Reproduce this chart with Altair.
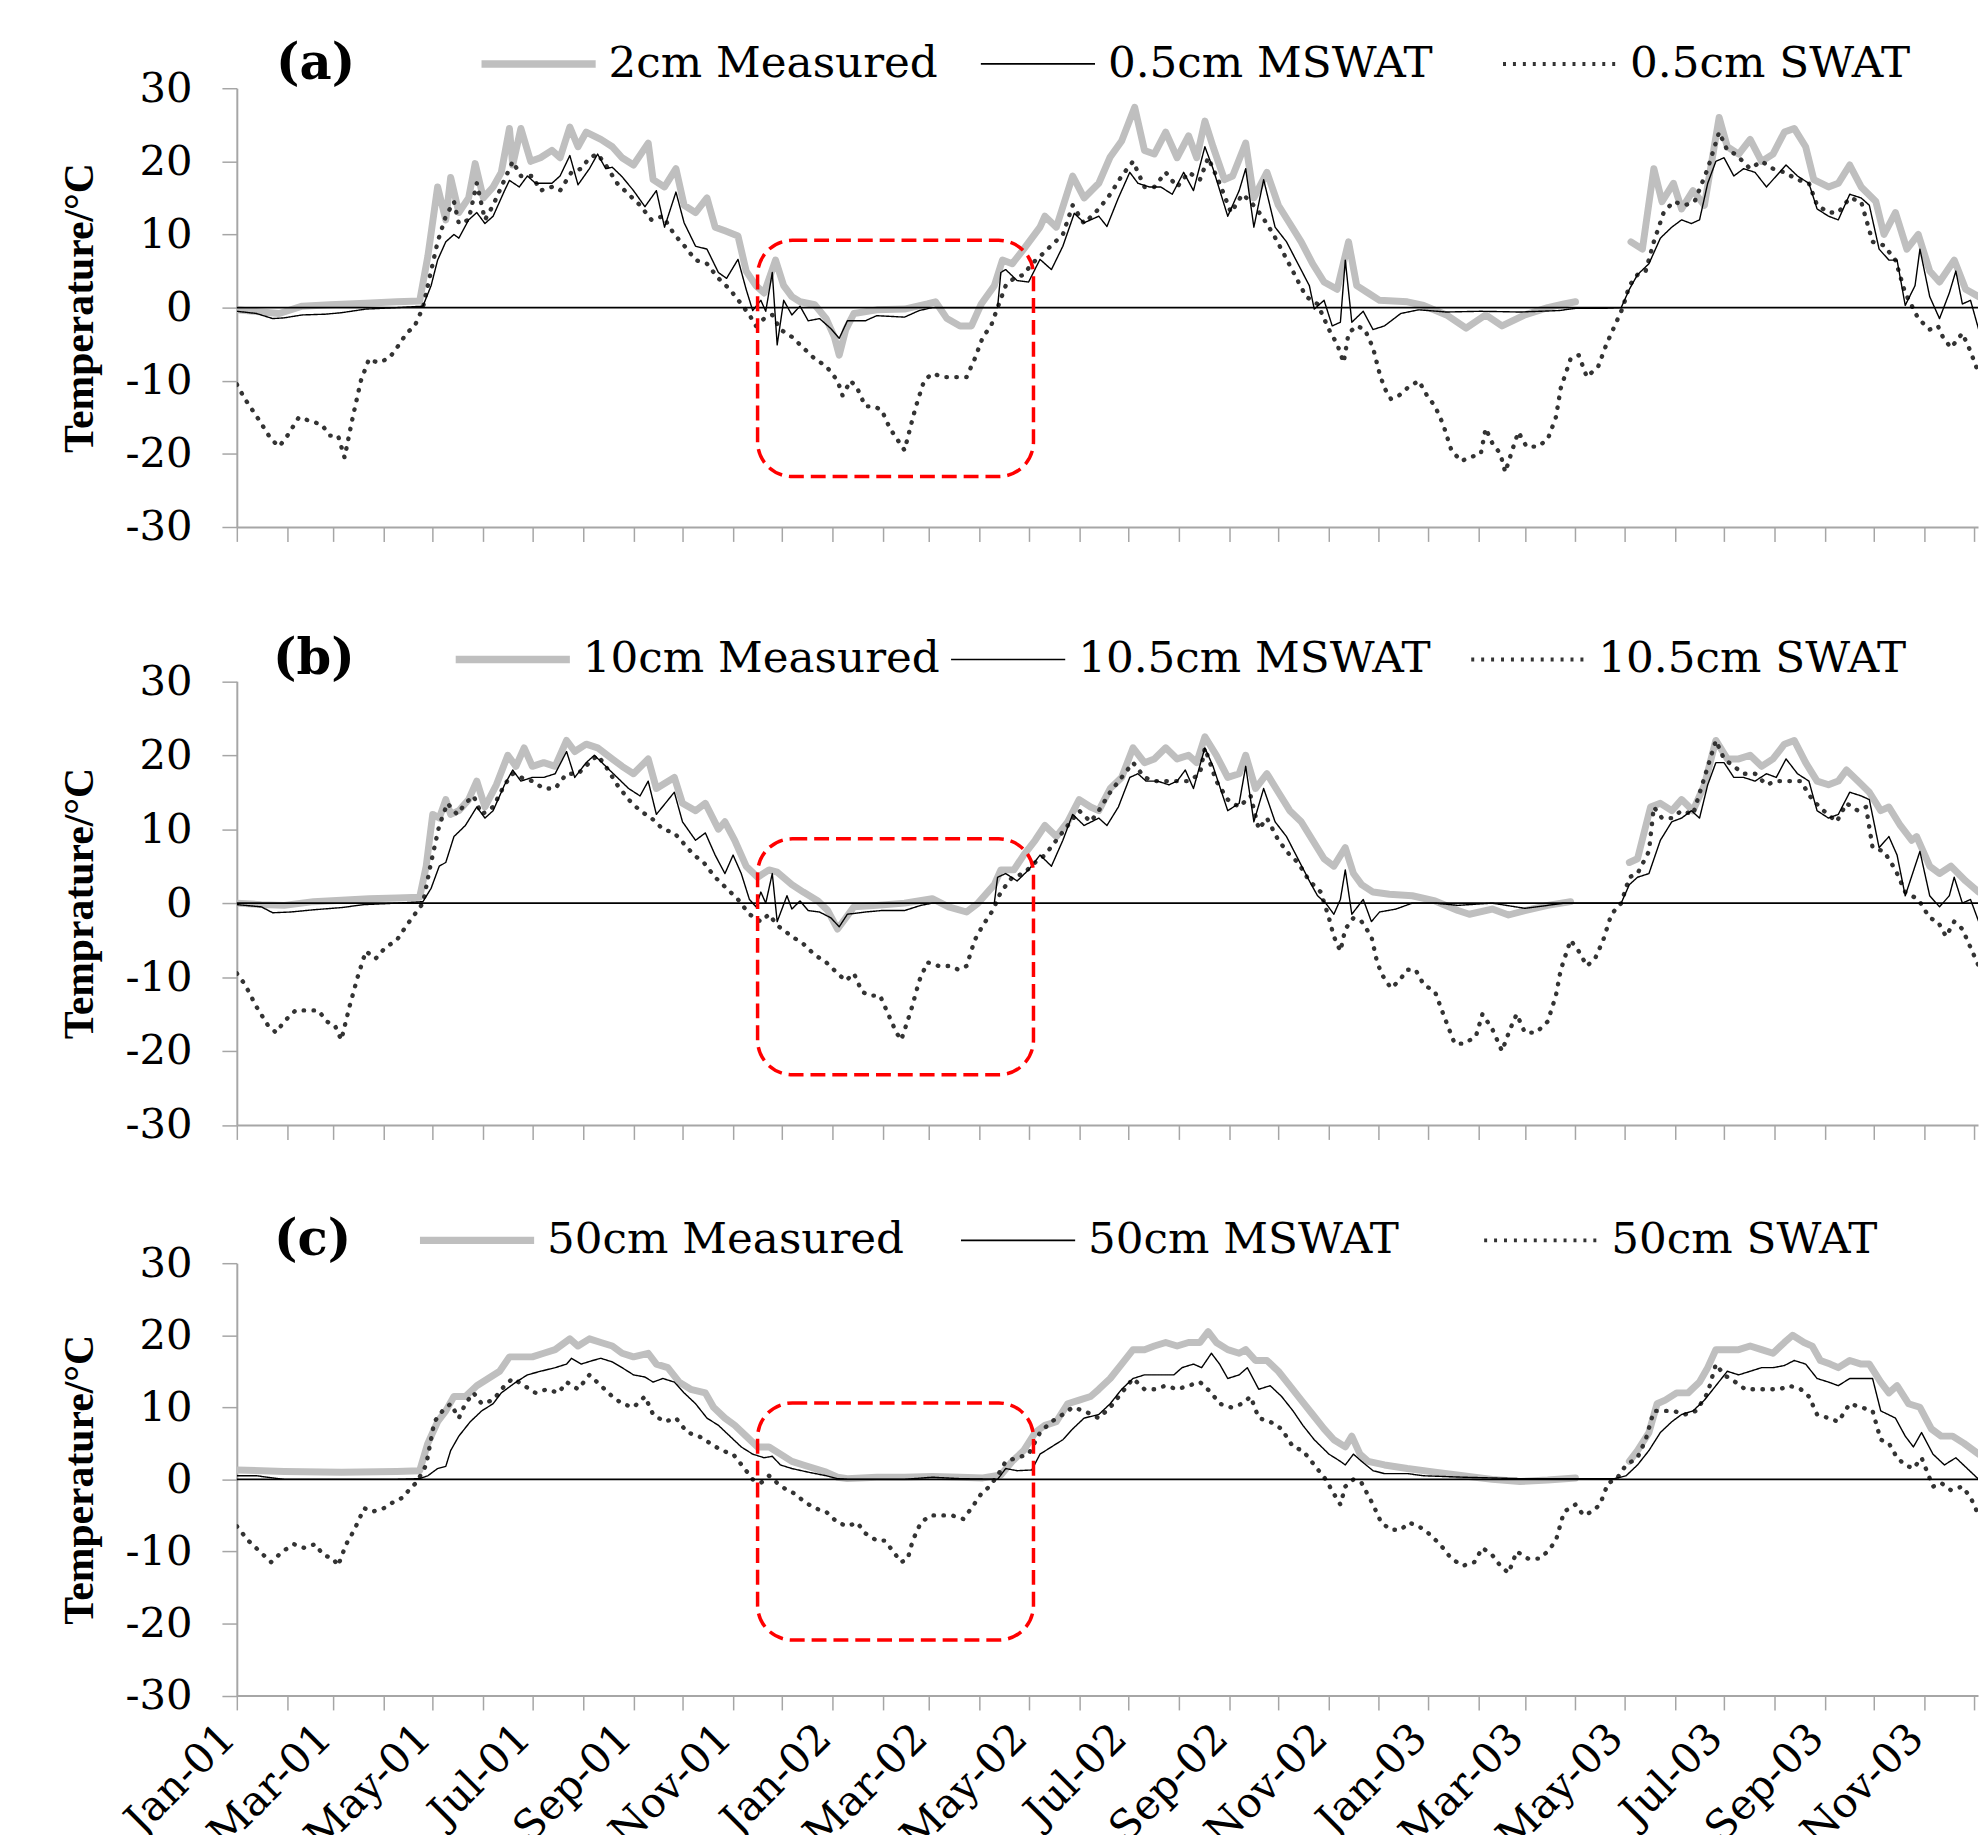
import altair as alt
import pandas as pd

BASE_DATE = "2001-01-01"
PANEL_TAGS = ["(a)", "(b)", "(c)"]
Y_TITLES = ["Temperature/°C", "Temprature/°C", "Temperature/°C"]
NAMES = [
    ["2cm Measured", "0.5cm MSWAT", "0.5cm SWAT"],
    ["10cm Measured", "10.5cm MSWAT", "10.5cm SWAT"],
    ["50cm Measured", "50cm MSWAT", "50cm SWAT"],
]
Y_TICKS = [-30, -20, -10, 0, 10, 20, 30]
ZERO = [0]

# (day offset from 2001-01-01, temperature); None marks a gap in the record
A_MEAS = [(0,-0.3),(15,-0.6),(26,-0.8),(40,0.2),(57,0.4),(79,0.6),(98,0.8),(112,0.9),(117,7),(123,16.5),(128,12),(131,17.8),(136,13),(142,15),(146,19.7),(151,15),(157,16.5),(162,18.5),(167,24.5),(169,19.5),(174,24.5),(180,20),(186,20.5),(193,21.5),(198,20.5),(204,24.7),(209,22),(214,24),(223,23),(230,22),(236,20.5),(243,19.5),(252,22.5),(255,17.5),(262,16.5),(269,19),(274,14),(281,13),(288,15),(293,11),(299,10.5),(307,9.8),(312,5),(318,3),(323,2),(330,6.5),(335,3),(340,1.5),(345,0.8),(354,0.4),(361,-1.5),(366,-4),(369,-6.5),(373,-3),(378,-0.8),(392,-0.3),(409,-0.2),(423,0.5),(428,0.8),(435,-1.5),(443,-2.5),(450,-2.5),(456,0.5),(464,3),(469,6.5),(475,6),(482,8),(492,11),(495,12.5),(502,11),(512,18),(519,15),(528,17),(535,20.6),(542,22.8),(550,27.4),(556,21.5),(562,21),(569,24),(576,20.5),(583,23.5),(588,20.5),(593,25.5),(598,22),(605,17.5),(610,18),(618,22.5),(623,15),(631,18.5),(638,14),(645,11.5),(652,9),(659,6),(666,3.5),(674,2.5),(681,9),(686,3),(693,2),(700,1),(717,0.8),(727,0.3),(741,-1),(753,-2.8),(765,-1),(775,-2.5),(789,-1),(803,0),(813,0.5),(820,0.8),(836,None),(854,9),(861,8),(868,19),(873,14.5),(880,17),(885,13.5),(892,16),(899,14),(908,26),(913,22),(920,21),(927,23),(934,20),(941,21),(948,24),(954,24.5),(961,22),(966,17.5),(975,16.5),(981,17),(988,19.5),(995,16.5),(1004,14.5),(1009,10),(1016,13),(1023,8),(1030,10),(1037,5),(1043,3.5),(1052,6.5),(1059,2.5),(1067,1.5)]
A_MSW = [(0,-0.5),(12,-0.8),(22,-1.5),(29,-1.4),(40,-1.0),(54,-0.9),(64,-0.7),(79,-0.2),(98,0),(114,0.2),(119,3),(123,6.5),(128,9),(133,10),(136,9.5),(142,12),(147,13),(152,11.5),(157,12.5),(164,16),(167,17.4),(173,16.5),(178,18),(183,17),(188,17),(193,17),(198,18),(204,20.8),(209,16.8),(216,19),(221,21),(226,19),(230,19.2),(236,17.9),(243,16),(250,13.8),(257,16),(262,11),(269,15.8),(274,11.6),(281,8.4),(288,8),(295,4.8),(300,4),(307,6.6),(312,2.5),(316,-0.4),(321,1),(324,-0.5),(328,4.8),(331,-5.1),(335,1),(340,-1),(345,0.2),(350,-1.8),(357,-1.5),(364,-2.9),(369,-4.2),(374,-1.8),(385,-1.8),(392,-1.1),(409,-1.3),(418,-0.4),(426,0),(466,0),(468,4.8),(471,5.2),(478,3.7),(485,3.5),(492,6.6),(499,5.2),(506,8.4),(513,12.9),(519,11.6),(528,12.5),(533,11.1),(540,15),(547,18.5),(552,17),(559,16.5),(566,16.5),(573,15.5),(580,18.5),(586,16),(593,22),(598,19),(607,12.5),(614,16),(618,19),(623,11),(629,17.5),(636,11),(643,9),(650,6),(657,3),(660,-0.2),(666,1),(671,-2.5),(676,-2),(679,6.5),(683,-2),(690,-0.5),(696,-3),(703,-2.5),(713,-0.8),(724,-0.3),(741,-0.6),(762,-0.5),(786,-0.6),(810,-0.4),(820,-0.1),(837,-0.1),(848,0),(853,2.5),(858,4.5),(865,6),(872,9.5),(879,11),(885,12),(891,11.5),(896,12),(901,17),(906,20),(911,20.5),(917,18),(923,19),(930,18.5),(937,16.5),(943,18),(949,19.5),(956,18),(963,17),(968,13.5),(975,12.5),(981,12),(988,15.5),(995,15),(1000,14),(1006,8),(1012,6.5),(1017,6.5),(1022,0.3),(1028,3),(1031,8),(1037,1.5),(1043,-1.5),(1049,2),(1053,5),(1057,0.5),(1062,1),(1067,-3)]
A_SWAT = [(0,-10.5),(5,-12.5),(14,-15.5),(21,-18),(26,-19),(31,-17.5),(38,-15),(45,-15.5),(52,-16),(57,-17.5),(62,-17.5),(66,-20.5),(71,-15),(76,-10),(81,-7),(86,-7.5),(93,-7),(98,-5.5),(104,-3.5),(109,-2.5),(114,0),(119,5),(123,9),(128,12.5),(133,14.5),(136,11.5),(142,12),(147,17),(152,12),(157,14),(164,17.5),(169,20),(174,18),(181,18),(186,16),(193,16.5),(198,16),(205,18.5),(211,19),(216,20.5),(221,21),(226,19.5),(233,17),(240,15.5),(247,14),(254,12),(261,12.5),(268,10),(274,8.5),(281,6.5),(288,6),(295,4),(302,2.5),(309,0.5),(314,-1),(318,-2.5),(323,-1.5),(328,-1),(333,-3),(340,-4),(347,-5.5),(354,-7),(361,-8),(368,-10),(371,-12),(376,-10),(380,-11),(385,-13.5),(390,-13.5),(395,-14),(400,-16.5),(406,-18.5),(409,-19.5),(413,-16),(416,-13.5),(421,-10),(426,-9),(433,-9.5),(440,-9.5),(447,-9.5),(452,-7),(457,-4),(462,-2.5),(466,0),(471,3),(476,4),(482,4.5),(487,6),(492,7),(499,8.5),(506,10),(512,14),(519,11.5),(528,13.5),(535,15.5),(542,18),(549,20),(556,16.5),(562,16.5),(569,18.5),(576,16.5),(583,18.5),(590,17.5),(595,20.5),(602,17),(609,13),(616,15.5),(621,14.5),(628,12.5),(635,10),(641,7.5),(648,4.5),(655,1.5),(662,0.5),(669,-3),(674,-5),(678,-7.5),(681,-3.5),(686,-2.5),(691,-3),(696,-5.5),(700,-9),(703,-11),(707,-12.5),(712,-12),(717,-11),(724,-10),(729,-12),(734,-13.5),(739,-16),(744,-19.5),(750,-21),(755,-20.5),(762,-20),(765,-16.5),(769,-18.5),(774,-20),(777,-22.5),(782,-19),(785,-17),(790,-19),(797,-19),(803,-18),(808,-15),(811,-11),(817,-7),(822,-6.5),(827,-9.5),(834,-8),(839,-5),(844,-2.5),(849,0),(853,3),(858,4.5),(863,5),(868,9),(874,13),(880,14.5),(887,14),(893,14.5),(901,19),(908,24),(913,21.5),(918,21),(927,19),(934,20),(941,19),(948,18.5),(956,17.5),(963,17),(968,14),(975,13),(981,13),(988,15),(995,14.5),(1002,9),(1009,8.5),(1016,6.5),(1022,2),(1030,-1.5),(1037,-3),(1042,-2.5),(1045,-4),(1050,-5.5),(1057,-3.5),(1062,-6),(1067,-9)]

B_MEAS = [(0,0),(15,-0.2),(29,-0.3),(47,0.2),(64,0.4),(81,0.6),(98,0.7),(112,0.8),(116,5),(120,12),(124,11.5),(128,14),(131,12),(136,12.5),(142,14),(147,16.5),(152,13),(159,16),(166,20),(171,18.5),(176,21),(181,18.5),(188,19),(195,18.5),(202,22),(207,20.5),(214,21.5),(221,21),(230,19.5),(236,18.5),(243,17.5),(252,19.5),(257,15.5),(268,17),(273,13.5),(281,12.5),(287,13.5),(295,10),(299,11),(305,8.5),(312,5),(319,3.5),(326,4.5),(331,4.2),(340,2.5),(347,1.5),(356,0.3),(362,-1),(368,-3.5),(373,-2),(378,-0.5),(392,-0.3),(409,0),(426,0.6),(436,-0.5),(447,-1.2),(454,0),(464,2.5),(468,4.5),(476,4.5),(482,6.5),(489,8.5),(495,10.5),(502,9),(509,11),(516,14),(523,13),(528,12.5),(535,15.5),(542,17),(549,21),(556,19),(562,19.5),(569,21),(576,19.5),(583,20),(588,19),(593,22.5),(600,20),(607,17),(614,17.5),(618,20),(624,15.5),(631,17.5),(638,15),(645,12.5),(652,11),(659,8.5),(666,6),(672,5),(679,7.5),(684,4),(689,2.5),(696,1.5),(706,1.2),(720,1),(734,0.3),(748,-1),(755,-1.5),(769,-0.8),(779,-1.6),(789,-1),(803,-0.3),(817,0.2),(835,None),(853,5.5),(858,6),(866,13),(872,13.5),(879,12.5),(885,14),(892,12.5),(899,16),(906,22),(913,19.5),(920,19.5),(927,20),(934,18.5),(941,19.5),(948,21.5),(954,22),(961,19),(968,16.5),(975,16),(981,16.5),(986,18),(993,16.5),(1000,15),(1007,12.5),(1012,13),(1019,10.5),(1026,8.5),(1029,9),(1037,5),(1043,4),(1050,5),(1059,3),(1067,1.5)]
B_MSW = [(0,-0.2),(15,-0.5),(22,-1.3),(33,-1.2),(47,-0.9),(64,-0.6),(78,-0.2),(98,0),(114,0.2),(119,2),(124,5),(128,5.5),(133,9),(140,10.5),(147,13),(152,11.5),(157,12.5),(164,16),(169,18),(174,16.5),(181,17),(188,17),(195,17.5),(202,20.5),(207,17),(214,19),(219,20),(226,18.5),(233,17),(240,15.5),(247,14.5),(252,16.5),(257,12),(268,15),(273,11),(281,8.5),(287,9.5),(293,6.5),(299,4),(304,6.5),(309,4),(314,0.5),(318,-0.5),(321,1.5),(324,0),(328,4),(331,-2.5),(337,1),(340,-0.8),(345,0.3),(350,-1),(357,-1.2),(364,-2),(369,-3.2),(374,-1.5),(385,-1.2),(395,-1),(409,-1),(419,-0.3),(426,0),(464,0),(466,3.5),(471,4),(478,3),(485,4.5),(492,6.5),(499,5),(506,8.5),(512,12),(519,10.5),(528,11.5),(533,10.5),(540,13),(547,17),(552,17.5),(557,16.5),(564,16.5),(571,16),(576,16.5),(581,18),(586,15.5),(593,21),(598,18.5),(607,12.5),(614,13.5),(618,18.5),(623,11),(629,15.5),(636,11),(643,9),(650,6),(657,3),(662,1),(667,0),(672,-1.5),(676,0.5),(679,4.5),(683,-1.5),(690,0.5),(695,-2.5),(700,-1.2),(710,-0.8),(720,0),(734,0),(748,-0.3),(769,0),(789,-0.7),(803,-0.3),(813,0),(848,0),(853,2.5),(858,3.5),(865,4),(872,8.5),(879,11),(885,11.5),(891,12.5),(896,11.5),(901,16),(906,19),(911,19),(917,17),(923,17),(930,16.5),(937,17.5),(943,17),(949,19.5),(956,17.5),(963,16.5),(968,12.5),(975,11.5),(981,12),(988,15),(995,14.5),(1000,14),(1006,7.5),(1012,9),(1017,6.5),(1022,1),(1028,5),(1031,7),(1037,1),(1043,-0.5),(1049,1),(1052,3.5),(1057,0),(1062,0.5),(1067,-2.5)]
B_SWAT = [(0,-9.5),(5,-11),(12,-14),(19,-16.5),(24,-17.5),(29,-16),(36,-14.5),(43,-14.5),(50,-14.5),(55,-16),(60,-16.5),(64,-18.5),(69,-14),(74,-10),(79,-6.5),(85,-7.5),(91,-6),(98,-5),(104,-3),(109,-1.5),(114,0),(119,5.5),(124,10.5),(129,13.5),(135,12),(140,13.5),(145,14.5),(150,12),(157,13),(164,16),(169,17.5),(174,17),(181,16.5),(188,15.5),(195,15.5),(202,17.5),(209,17.5),(216,19),(221,20),(226,18.5),(233,16),(240,14),(247,12.5),(254,11.5),(261,10),(268,9.5),(274,8),(280,6.5),(286,5.5),(293,3.5),(300,2),(307,0.5),(314,-1.5),(321,-2.5),(326,-1.5),(331,-3),(340,-4.5),(347,-5.5),(354,-7),(361,-8),(368,-9.5),(373,-10.5),(378,-9.5),(383,-12),(388,-12.5),(394,-12.5),(399,-15),(404,-17.5),(407,-18.5),(413,-14.5),(418,-10.5),(423,-8),(430,-8.5),(437,-8.5),(442,-9),(447,-8.5),(452,-5),(457,-3),(463,-1),(468,1.5),(475,3.5),(482,4),(489,5.5),(495,6.5),(502,8.5),(509,10.5),(516,12.5),(523,11),(528,12.5),(535,15),(542,17),(549,19),(556,17),(562,16.5),(569,16.5),(576,16.5),(583,16.5),(590,17.5),(593,21),(600,16.5),(607,14),(614,13),(621,14.5),(626,10),(631,11.5),(638,8.5),(645,6.5),(650,5.5),(657,3),(664,1.5),(669,-2),(672,-4.5),(676,-6.5),(679,-3.5),(684,-2),(689,-2.5),(695,-4.5),(698,-7.5),(701,-9.5),(707,-11.5),(712,-10.5),(717,-9),(722,-9),(727,-11),(734,-12),(739,-15),(746,-19),(752,-19),(759,-18),(763,-15),(769,-17),(775,-20),(780,-17),(784,-15),(789,-17.5),(796,-17.5),(803,-16),(808,-12.5),(811,-9),(817,-5),(822,-6.5),(827,-8.5),(832,-7.5),(837,-5),(842,-1.5),(848,0),(853,3.5),(858,4),(865,7),(868,13),(873,11.5),(879,11.5),(885,12.5),(892,12),(899,17),(906,22),(911,19.5),(917,18.5),(923,17.5),(930,17.5),(937,16),(943,16.5),(951,16.5),(958,16.5),(965,14),(972,12.5),(980,11),(986,13.5),(993,12.5),(998,13),(1002,7.5),(1009,7),(1016,4.5),(1022,1.5),(1030,0.5),(1037,-2),(1042,-2.5),(1047,-4.5),(1052,-2.5),(1057,-3.5),(1062,-6),(1067,-8.5)]

C_MEAS = [(0,1.3),(29,1.1),(64,1.0),(98,1.1),(112,1.2),(117,5),(123,8),(128,9.5),(133,11.5),(140,11.5),(147,13),(154,14),(161,15),(167,17),(174,17),(181,17),(188,17.5),(195,18),(204,19.5),(209,18.5),(216,19.5),(223,19),(230,18.5),(236,17.5),(243,17),(252,17.5),(257,16),(264,15.5),(271,13.5),(278,12.5),(287,12),(292,10),(299,8.5),(305,7.5),(312,6),(319,4.5),(326,4.5),(333,3.5),(340,2.5),(347,2),(354,1.5),(361,1),(368,0.3),(374,0.1),(392,0.3),(409,0.3),(426,0.4),(443,0.3),(457,0.2),(468,0.6),(475,2.5),(482,4),(489,6.5),(495,7.5),(502,8),(509,10.5),(516,11),(523,11.5),(528,12.5),(535,14),(542,16),(549,18),(556,18),(562,18.5),(569,19),(576,18.5),(583,19),(590,19),(595,20.5),(600,19),(607,18),(614,17.5),(618,18),(624,16.5),(631,16.5),(638,15),(645,13),(652,11),(659,9),(666,7),(672,5.5),(679,4.5),(683,6),(688,3.5),(693,2.5),(703,2),(717,1.5),(734,1),(751,0.5),(769,0),(786,-0.3),(803,-0.1),(820,0.2),(836,None),(853,2.5),(858,4),(865,6.5),(870,10.5),(875,11),(882,12),(889,12),(896,13.5),(901,15.5),(906,18),(913,18),(920,18),(927,18.5),(934,18),(941,17.5),(948,19),(953,20),(960,19),(965,18.5),(970,16.5),(976,16),(981,15.5),(988,16.5),(995,16),(1000,16),(1007,13.5),(1012,12),(1017,13),(1024,10.5),(1031,10),(1038,7),(1044,6),(1051,6),(1058,5),(1067,3.5)]
C_MSW = [(0,0.5),(12,0.5),(22,0.2),(29,0),(64,0),(98,0),(112,0.1),(117,0.5),(123,1.5),(128,1.8),(131,4),(136,6),(143,8),(150,9.5),(157,10.5),(162,12),(171,13.5),(178,14.5),(186,15),(195,15.5),(202,16),(205,16.8),(211,16),(218,16.5),(223,16.8),(230,16.3),(236,15.5),(243,14.5),(250,14.2),(255,13.5),(261,14),(268,13.5),(274,12),(281,10.5),(288,8.5),(295,7.5),(302,6),(309,4.5),(316,3.5),(323,3),(328,3.2),(333,2),(340,1.5),(350,1),(361,0.5),(368,0.1),(374,0),(409,0),(426,0.3),(443,0.1),(466,0),(471,1.5),(478,1.2),(487,1.3),(492,3.5),(499,4.5),(506,5.5),(512,7),(519,8.5),(528,9),(535,10.5),(542,12.5),(549,14),(556,14.5),(562,14.5),(569,14.5),(574,14.5),(579,15.5),(586,16),(591,15.5),(597,17.5),(602,16),(607,14),(614,14.5),(619,15.5),(626,12.5),(633,13),(640,11.5),(647,9.5),(653,7.5),(660,5.5),(669,3.5),(676,2.5),(679,2),(684,3.5),(689,2.5),(696,1.2),(703,0.8),(717,0.8),(727,0.5),(751,0.3),(786,0.1),(820,0.1),(844,0.1),(851,0.5),(858,2),(865,4),(872,6.5),(879,8),(885,9),(892,9.5),(899,11),(906,13),(913,15),(920,14.5),(927,15),(934,15.5),(941,15.5),(948,15.8),(954,16.5),(961,16),(968,14),(975,13.5),(981,13),(988,14),(1002,14),(1007,9.5),(1016,8.5),(1022,6),(1027,4.5),(1032,6.5),(1039,3.5),(1046,2),(1053,3),(1060,1.5),(1067,0)]
C_SWAT = [(0,-6.5),(7,-8.5),(14,-10),(21,-11.5),(28,-10),(35,-9),(41,-9.5),(48,-9),(53,-10.5),(59,-11),(62,-12),(67,-9),(72,-7),(78,-4),(83,-4.5),(90,-4),(97,-3),(102,-2.5),(107,-1),(110,-0.5),(116,2),(121,8),(126,9.5),(131,10.5),(136,8.5),(140,10.5),(145,12),(150,10.5),(157,11),(164,13),(169,14),(176,13),(183,12),(190,12.5),(197,12),(202,13.5),(209,12.5),(216,14.5),(223,13),(230,11.5),(236,10.5),(243,10),(250,11.5),(255,9),(262,8),(269,8.5),(276,6.5),(283,6),(290,5),(297,4),(304,3.5),(311,1.5),(316,0),(321,-0.5),(326,0.5),(331,-0.5),(337,-1.5),(342,-2),(347,-3),(354,-4),(361,-4.5),(368,-6),(374,-6.5),(380,-6),(385,-7.5),(392,-8.5),(397,-8.5),(402,-10),(407,-11.5),(411,-11),(414,-8.5),(419,-6),(425,-5),(431,-5),(438,-5),(445,-5.5),(450,-4),(456,-2),(461,-1),(466,0.5),(471,2.5),(478,3),(485,3.5),(492,6.5),(499,8),(506,9),(512,10),(519,9.5),(528,8.5),(535,10),(542,12),(549,14),(556,12.5),(562,12.5),(569,13),(576,12.5),(583,13),(590,13.5),(597,12),(602,10.5),(609,10),(616,10.5),(621,11.5),(626,8.5),(633,8),(640,7),(647,4.5),(653,4),(660,2),(667,0),(672,-2),(676,-3.5),(679,-1),(684,0),(689,-0.5),(696,-3.5),(701,-6),(707,-7),(713,-7),(718,-6),(724,-6.5),(730,-7.5),(737,-9),(744,-11),(751,-12),(758,-11.5),(763,-9.5),(769,-10.5),(774,-12),(779,-13),(784,-10),(791,-11),(798,-11),(803,-10),(808,-8.5),(813,-4.5),(820,-3.5),(825,-5),(830,-4.5),(835,-3.5),(840,-0.5),(845,0),(851,2),(858,3),(863,5.5),(868,9.5),(873,9.5),(880,9.5),(887,9),(894,9.5),(901,12),(906,16),(911,14.5),(918,13.5),(924,12.5),(931,12.5),(938,12.5),(945,12.5),(951,13),(958,12.5),(963,11.5),(968,9),(975,8.5),(981,8),(988,10.5),(995,10),(1002,9.5),(1007,5.5),(1012,5),(1017,3),(1022,2),(1027,1.5),(1032,3),(1039,-1),(1044,-0.5),(1050,-1.5),(1057,-1),(1062,-2.5),(1067,-5)]

SERIES = [[A_MEAS, A_MSW, A_SWAT], [B_MEAS, B_MSW, B_SWAT], [C_MEAS, C_MSW, C_SWAT]]

# highlighted winter period (rounded dashed box)
BOX_START = "2001-11-16"
BOX_END = "2002-05-04"
BOX_TOP = [9.2, 8.7, 10.6]
BOX_BOTTOM = [-23.1, -23.2, -22.3]

# ---- style ----
FONT = "DejaVu Serif"
FONT_YT = "Liberation Serif"
GREY = "#bfbfbf"
DOTC = "#333333"
W_MEAS, W_MSW, W_SWAT = 7, 1.4, 4.4
PLOT_W = 1754
PLOT_LEFT = 233.5
# visible plot heights and extra empty band above panel (b)
VIS_H = [442, 447, 435.5]
TOP_GAP = [0, 16.6, 0]
SPACING = 138.8
TAG_X = [273, 270, 271]
TAG_W = [82, 85, 81]
SYM_X = [[482, 983, 1509], [456, 953, 1477], [421, 963, 1490]]
ENTRY_CENTER = [-24.5, -22.0, -23.0]  # legend row centre relative to plot top
LABEL_FS = 44
SYM_LEN = 115
SYM_BOX = 30
ENTRY = max(SYM_BOX + 7, LABEL_FS)
SYM_OVER = SYM_LEN / 2 - ENTRY / 2
SYM_PATH = f"M{-SYM_LEN / SYM_BOX:.4f},0H{SYM_LEN / SYM_BOX:.4f}"
AX_GREY = "#a6a6a6"

base = pd.Timestamp(BASE_DATE)


def frame(points, name):
    rows, seg = [], 0
    for d, v in points:
        if v is None:
            seg += 1
            continue
        rows.append({"date": base + pd.Timedelta(days=d), "value": v,
                     "series": name, "seg": seg})
    return pd.DataFrame(rows)


def legend(i, k, **kw):
    common = dict(
        orient="none", legendX=SYM_X[i][k] - PLOT_LEFT + SYM_OVER,
        legendY=ENTRY_CENTER[i] - ENTRY / 2 + TOP_GAP[i],
        direction="horizontal", symbolType=SYM_PATH, symbolSize=SYM_BOX ** 2,
        labelFont=FONT, labelFontSize=LABEL_FS, labelColor="black",
        labelOffset=SYM_LEN / 2 + 13 - ENTRY / 2, labelLimit=0, padding=0,
        symbolFillColor="transparent",
    )
    if k == 0:
        common.update(
            legendX=TAG_X[i] - PLOT_LEFT, title=PANEL_TAGS[i], titleOrient="left",
            titleFont=FONT, titleFontSize=50, titleFontWeight="bold", titleColor="black",
            titlePadding=SYM_X[i][0] + SYM_OVER - TAG_X[i] - TAG_W[i],
            titleBaseline="middle", titleAnchor="middle")
    else:
        common.update(title=None)
    common.update(kw)
    return alt.Legend(**common)


def panel(i):
    names = NAMES[i]
    d_meas, d_msw, d_swat = (frame(SERIES[i][k], names[k]) for k in range(3))
    total_h = VIS_H[i] + TOP_GAP[i]
    xscale = alt.Scale(domain=[alt.DateTime(year=2001, month=1, date=1),
                               alt.DateTime(year=2003, month=12, date=3, hours=14)])
    yscale = alt.Scale(domain=[-30, 30], nice=False, zero=False, range=[total_h, TOP_GAP[i]])
    x_axis = alt.Axis(
        tickCount={"interval": "month", "step": 1}, grid=False, title=None,
        labels=(i == 2),
        labelExpr="month(datum.value) % 2 == 0 ? timeFormat(datum.value, '%b-%y') : ''",
        labelAngle=315, labelAlign="right", labelBaseline="top",
        labelPadding=7, labelOffset=-23, labelFont=FONT, labelFontSize=42,
        labelColor="black", labelOverlap=False, labelFlush=False,
        tickSize=14.5, tickColor=AX_GREY, tickWidth=1.5,
        domainColor=AX_GREY, domainWidth=2,
    )
    y_axis = alt.Axis(
        values=Y_TICKS, grid=False, tickSize=15, tickColor=AX_GREY, tickWidth=1.5,
        domainColor=AX_GREY, domainWidth=2, labelFont=FONT, labelFontSize=42,
        labelExpr="datum.value < 0 ? '-' + abs(datum.value) : '' + datum.value",
        labelColor="black", labelPadding=30, title=Y_TITLES[i], titleFont=FONT_YT,
        titleFontSize=42, titleFontWeight="bold", titleColor="black", titlePadding=24,
    )
    X = alt.X("date:T", scale=xscale, axis=x_axis)
    Y = alt.Y("value:Q", scale=yscale, axis=y_axis)

    meas = alt.Chart(d_meas).mark_line(
        clip=True, strokeWidth=W_MEAS, strokeCap="round", strokeJoin="round").encode(
        x=X, y=Y, detail="seg:N",
        stroke=alt.Stroke("series:N", scale=alt.Scale(domain=[names[0]], range=[GREY]),
                          legend=legend(i, 0, symbolStrokeWidth=7.5)))
    swat = alt.Chart(d_swat).mark_line(
        clip=True, strokeWidth=W_SWAT, strokeDash=[0.5, 9.5], strokeCap="round",
        strokeJoin="round").encode(
        x=X, y=Y,
        color=alt.Color("series:N", scale=alt.Scale(domain=[names[2]], range=[DOTC]),
                        legend=legend(i, 2, symbolStrokeWidth=4, symbolDash=[3, 7])))
    msw = alt.Chart(d_msw).mark_line(
        clip=True, strokeWidth=W_MSW, color="#000000", strokeJoin="round").encode(
        x=X, y=Y,
        strokeDash=alt.StrokeDash("series:N", scale=alt.Scale(domain=[names[1]], range=[[1, 0]]),
                                  legend=legend(i, 1, symbolStrokeWidth=1.6,
                                                symbolStrokeColor="#000000")))
    zero = alt.Chart(pd.DataFrame({"value": ZERO})).mark_rule(
        color="black", strokeWidth=1.8).encode(y=Y)
    box_df = pd.DataFrame({"start": [pd.Timestamp(BOX_START)], "end": [pd.Timestamp(BOX_END)],
                           "value": [BOX_TOP[i]], "bottom": [BOX_BOTTOM[i]]})
    box = alt.Chart(box_df).mark_rect(
        fill="transparent", stroke="#ff0000", strokeWidth=3.5, strokeDash=[15, 7],
        cornerRadius=35).encode(
        x=alt.X("start:T", scale=xscale, axis=x_axis), x2="end:T", y=Y, y2="bottom:Q")
    return alt.layer(meas, swat, msw, zero, box).properties(width=PLOT_W, height=total_h)


chart = alt.vconcat(panel(0), panel(1), panel(2), spacing=SPACING, bounds="flush") \
    .resolve_scale(color="independent", stroke="independent", strokeDash="independent") \
    .resolve_legend(color="independent", stroke="independent", strokeDash="independent") \
    .properties(padding={"left": 50.5, "top": 27, "right": 0, "bottom": 0}, background="white") \
    .configure_view(stroke=None)

chart.save("out.html", embed_options={"renderer": "svg", "actions": False})
